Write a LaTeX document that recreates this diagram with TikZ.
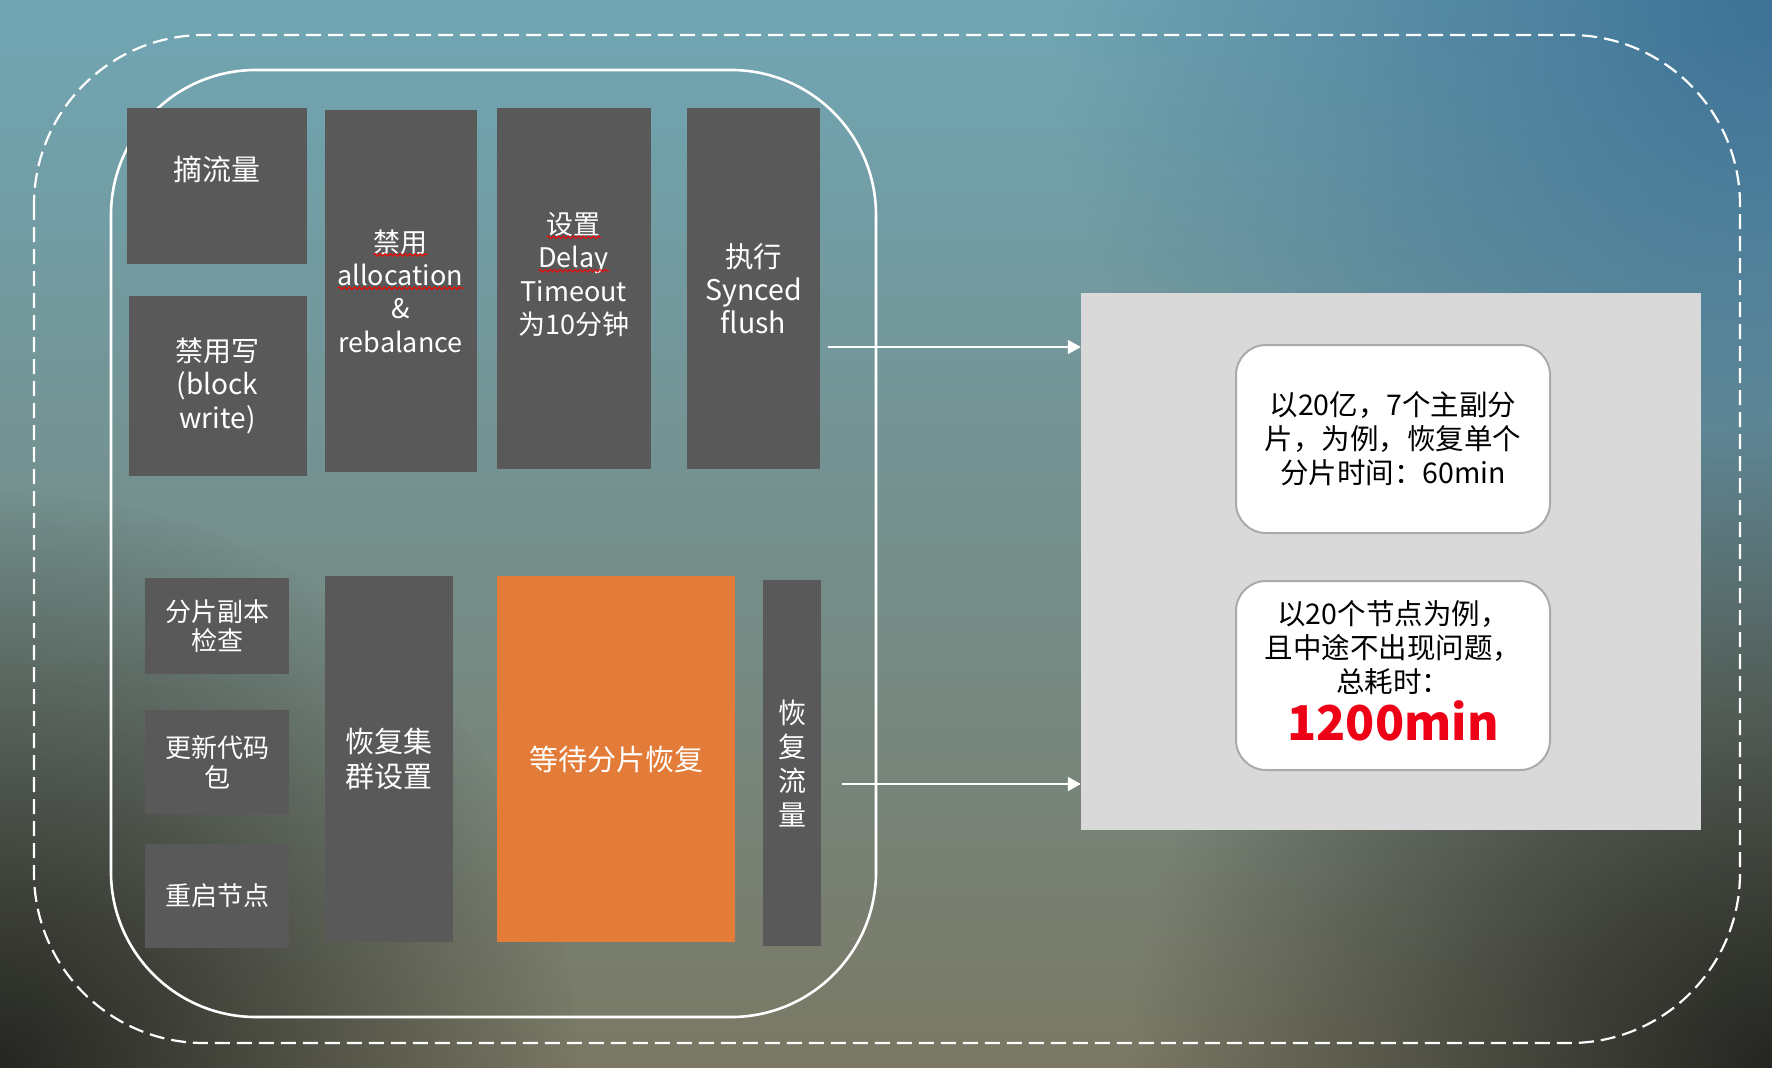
\documentclass[tikz,border=0pt]{standalone}
\usepackage{fontspec}
\setmainfont{Noto Sans CJK SC}
\usetikzlibrary{positioning, arrows.meta, fadings, decorations.pathmorphing}

\definecolor{bgtop}{RGB}{112,166,180}
\definecolor{bgmid}{RGB}{168,184,174}
\definecolor{bgbot}{RGB}{122,120,100}
\definecolor{bgblue}{RGB}{62,114,150}
\definecolor{bgdark}{RGB}{36,38,34}
\definecolor{boxgray}{RGB}{89,89,89}
\definecolor{waitorange}{RGB}{226,124,56}
\definecolor{panelgray}{RGB}{217,217,217}
\definecolor{notegray}{RGB}{170,170,170}
\definecolor{alert}{RGB}{238,0,22}

% red wavy underline, as the spell checker left it
\newlength\spellw
\newcommand\spellmark[1]{\setbox0=\hbox{#1}\setlength\spellw{\wd0}\rlap{\box0}%
  \lower4.5pt\hbox{\tikz\draw[red, line width=1pt, decorate,
    decoration={snake, amplitude=1.3pt, segment length=5pt}] (0pt,0pt) -- (\spellw,0pt);}}
\tikzfading[name=blob, inner color=transparent!0, outer color=transparent!100]

\begin{document}
\begin{tikzpicture}[x=1pt, y=-1pt,
      sz/.style 2 args = {minimum width=#1pt, minimum height=#2pt},
      blk/.style  = {fill=boxgray, text=white, align=center, inner sep=0pt,
                     font=\fontsize{29}{34}\selectfont},
      small/.style = {blk, font=\fontsize{26}{29.5}\selectfont},
      note/.style = {draw=notegray, line width=2pt, fill=white, rounded corners=30pt,
                     align=center, inner sep=0pt, sz={314}{188},
                     font=\fontsize{28.5}{34}\selectfont},
      arr/.style  = {-{Triangle[length=13pt, width=14pt]}, white, line width=2pt}]
    \useasboundingbox (0,0) rectangle (1772,1068);
    % background
    \begin{scope}
      \clip (0,0) rectangle (1772,1068);
      \shade[top color=bgtop, middle color=bgmid, bottom color=bgbot] (0,0) rectangle (1772,1068);
      \fill[bgblue, path fading=blob] (1772,0) circle (720);
      \fill[bgdark, path fading=blob] (0,1068) circle (580);
      \fill[bgdark, path fading=blob] (1772,1068) circle (640);
    \end{scope}
    \draw[white, line width=2.2pt, dash pattern=on 15pt off 7pt, rounded corners=170pt]
      (34,35) rectangle (1740,1043);
    \draw[white, line width=2.6pt, rounded corners=145pt] (111,70) rectangle (876,1017);
    % upper row
    \node[blk, sz={180}{156}, text depth=35pt] (zhai)   at (216.5,185.8) {摘流量};
    \node[blk, sz={178}{180}, font=\fontsize{28}{33.3}\selectfont]
                                               (nowrite) at (217.5,385.8) {禁用写\\(block\\write)};
    \node[blk, sz={152}{362}, font=\fontsize{27}{33.3}\selectfont]
                                               (alloc)  at (400.7,291)   {\spellmark{禁用}\\\spellmark{allocation}\\\&\\rebalance};
    \node[blk, sz={154}{361}, font=\fontsize{27}{33.3}\selectfont, text depth=30pt]
                                               (delay)  at (573.8,288.5) {\spellmark{设置}\\\spellmark{Delay}\\Timeout\\为10分钟};
    \node[blk, sz={133}{361}, font=\fontsize{28.5}{33.3}\selectfont]
                                               (synced) at (753.5,288.5) {执行\\Synced\\flush};
    % lower row
    \node[small, sz={144}{96}]                 (check)   at (217,626)   {分片副本\\检查};
    \node[small, sz={144}{104}, font=\fontsize{26}{30}\selectfont]
                                               (code)    at (217,762)   {更新代码\\包};
    \node[small, sz={144}{104}]                (restart) at (217,896)   {重启节点};
    \node[blk, sz={128}{366}, font=\fontsize{29}{35}\selectfont]
                                               (cluster) at (389,759)   {恢复集\\群设置};
    \node[blk, sz={238}{366}, fill=waitorange] (wait)    at (616,759)   {等待分片恢复};
    \node[blk, sz={58}{366}, font=\fontsize{28}{34}\selectfont]
                                               (traffic) at (792,763)   {恢\\复\\流\\量};
    % result panel
    \node[fill=panelgray, sz={620}{537}, inner sep=0pt] (panel) at (1391,561) {};
    \node[note] (one) at (1393,439) {以20亿，7个主副分\\片，为例，恢复单个\\分片时间：60min};
    \node[note, below=46pt of one, sz={314}{189}] (total)
      {以20个节点为例，\\且中途不出现问题，\\总耗时：\\[5pt]{\color{alert}\fontsize{48}{50}\selectfont\bfseries 1200min}\rule[-10pt]{0pt}{10pt}};
    \coordinate (a1) at ([shift={(8,58.5)}]synced.east);
    \coordinate (a2) at ([shift={(21,21)}]traffic.east);
    \draw[arr] (a1) -- (a1 -| panel.west);
    \draw[arr] (a2) -- (a2 -| panel.west);
\end{tikzpicture}
\end{document}
